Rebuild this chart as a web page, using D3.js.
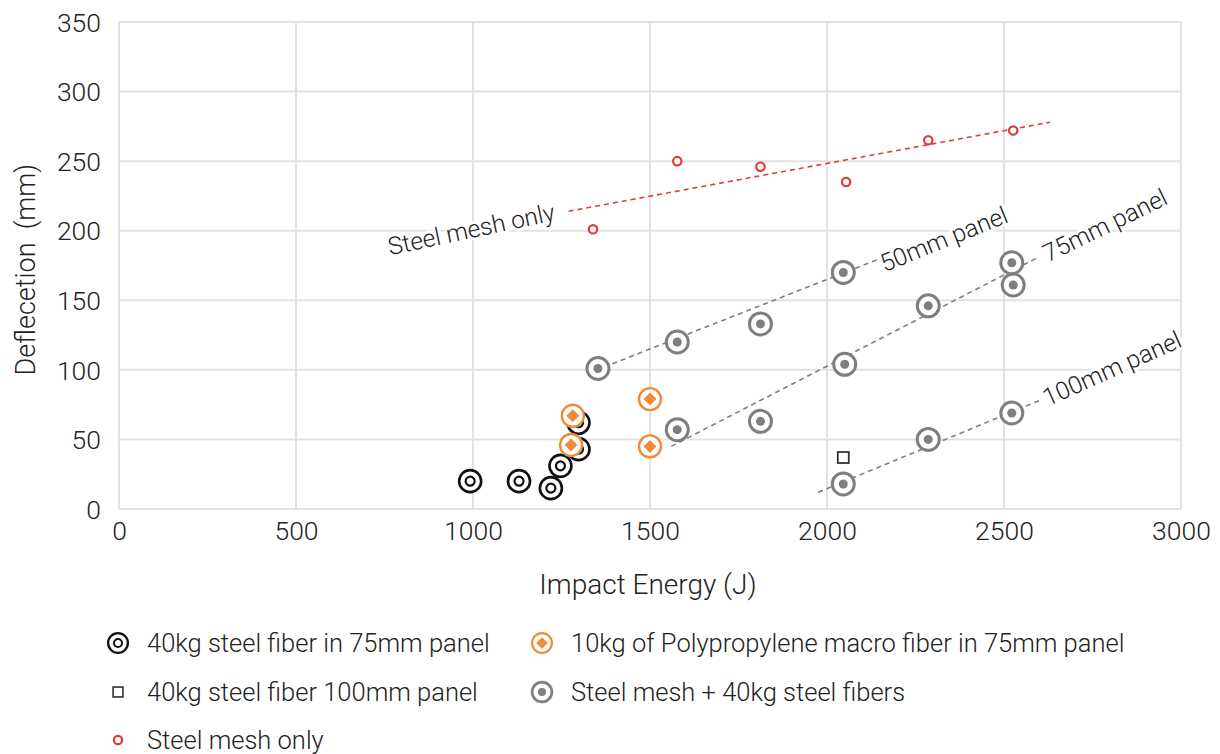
<!DOCTYPE html>
<html>
<head>
<meta charset="utf-8">
<script src="https://cdn.jsdelivr.net/npm/d3@7"></script>
<style>
  body { margin: 0; background: #fff; }
  svg text { font-family: Roboto, "Open Sans", sans-serif; font-weight: 300; fill: #222; }
  .grid line { stroke: #e2e2e2; stroke-width: 2; }
  .tick text { font-size: 26.5px; }
</style>
</head>
<body>
<script>
// ---- data ----
var xTicks = [0, 500, 1000, 1500, 2000, 2500, 3000];
var yTicks = [0, 50, 100, 150, 200, 250, 300, 350];

var fiber75 = [[992, 20], [1130, 20], [1220, 15], [1247, 31], [1298, 43], [1298, 62]];
var poly75 = [[1282, 67], [1277, 46], [1500, 79], [1500, 45]];
var fiber100 = [[2046, 37]];
var meshOnly = [[1339, 201], [1577, 250], [1812, 246], [2054, 235], [2286, 265], [2526, 272]];
var mesh50 = [[1353, 101], [1577, 120], [1812, 133], [2046, 170]];
var mesh75 = [[1577, 57], [1812, 63], [2050, 104], [2286, 146], [2526, 161], [2522, 177]];
var mesh100 = [[2046, 18], [2286, 50], [2522, 69]];

// trend lines (start, end)
var trendMesh = [[1270, 214], [2630, 278]];
var trend50 = [[1370, 102], [2150, 180]];
var trend75 = [[1560, 45], [2590, 180]];
var trend100 = [[1975, 12], [2600, 78]];

var legendItems = [
  {key: "fiber75", label: "40kg steel fiber in 75mm panel"},
  {key: "poly75", label: "10kg of Polypropylene macro fiber in 75mm panel"},
  {key: "fiber100", label: "40kg steel fiber 100mm panel"},
  {key: "mesh", label: "Steel mesh + 40kg steel fibers"},
  {key: "meshOnly", label: "Steel mesh only"}
];

// ---- layout ----
var width = 1220, height = 754;
var margin = {left: 119, right: 39, top: 22, bottom: 245};

var svg = d3.select("body").append("svg")
  .attr("width", width)
  .attr("height", height);

var x = d3.scaleLinear().domain([0, 3000]).range([margin.left, width - margin.right]);
var y = d3.scaleLinear().domain([0, 350]).range([height - margin.bottom, margin.top]);

// grid
var grid = svg.append("g").attr("class", "grid");
grid.selectAll(".vg").data(xTicks).enter().append("line")
  .attr("x1", function (d) { return x(d); })
  .attr("x2", function (d) { return x(d); })
  .attr("y1", y(0)).attr("y2", y(350));
grid.selectAll(".hg").data(yTicks).enter().append("line")
  .attr("y1", function (d) { return y(d); })
  .attr("y2", function (d) { return y(d); })
  .attr("x1", x(0)).attr("x2", x(3000));

// axes (labels only)
var xAxis = svg.append("g")
  .attr("transform", "translate(0," + (y(0) + 4) + ")")
  .call(d3.axisBottom(x).tickValues(xTicks).tickFormat(d3.format("d")).tickSize(0).tickPadding(8));
var yAxis = svg.append("g")
  .attr("transform", "translate(" + (x(0) - 18) + ",0)")
  .call(d3.axisLeft(y).tickValues(yTicks).tickFormat(d3.format("d")).tickSize(0).tickPadding(0));
svg.selectAll(".domain").remove();
yAxis.selectAll("text").attr("dy", "0.35em");

svg.append("text")
  .attr("x", (x(0) + x(3000)) / 2 - 2)
  .attr("y", 594)
  .attr("text-anchor", "middle")
  .style("font-size", "28px")
  .text("Impact Energy (J)");

svg.append("text")
  .attr("transform", "translate(35," + y(172) + ") rotate(-90)")
  .attr("text-anchor", "middle")
  .style("font-size", "27px")
  .attr("xml:space", "preserve")
  .text("Deflecetion  (mm)");

// trend lines
var line = d3.line()
  .x(function (d) { return x(d[0]); })
  .y(function (d) { return y(d[1]); });

svg.append("path").datum(trendMesh).attr("d", line)
  .attr("fill", "none").attr("stroke", "#e23b3b").attr("stroke-width", 1.6).attr("stroke-dasharray", "5,4");
[trend50, trend75, trend100].forEach(function (t) {
  svg.append("path").datum(t).attr("d", line)
    .attr("fill", "none").attr("stroke", "#7f7f7f").attr("stroke-width", 1.6).attr("stroke-dasharray", "5,4");
});

// line labels
function lineLabel(txt, px, py, angle) {
  svg.append("text")
    .attr("transform", "translate(" + x(px) + "," + y(py) + ") rotate(" + angle + ")")
    .attr("text-anchor", "middle")
    .attr("dy", "0.35em")
    .style("font-size", "24.5px")
    .style("paint-order", "stroke")
    .style("stroke", "#fff")
    .style("stroke-width", 6)
    .text(txt);
}
lineLabel("Steel mesh only", 995, 201, -12);
lineLabel("50mm panel", 2330, 194, -22);
lineLabel("75mm panel", 2785, 204, -26);
lineLabel("100mm panel", 2805, 101, -24);

// marker drawing
function drawMarker(g, key) {
  if (key == "fiber75") {
    g.append("circle").attr("r", 11).attr("fill", "#fff").attr("stroke", "#111").attr("stroke-width", 2.6);
    g.append("circle").attr("r", 4.5).attr("fill", "none").attr("stroke", "#111").attr("stroke-width", 2.2);
  } else if (key == "poly75") {
    g.append("circle").attr("r", 11).attr("fill", "#fff").attr("stroke", "#f28a3a").attr("stroke-width", 2.4);
    g.append("path").attr("d", "M0,-6.5L6.5,0L0,6.5L-6.5,0Z").attr("fill", "#f28a3a");
  } else if (key == "fiber100") {
    g.append("rect").attr("x", -5.5).attr("y", -5.5).attr("width", 11).attr("height", 11)
      .attr("fill", "#fff").attr("stroke", "#333").attr("stroke-width", 1.8);
  } else if (key == "mesh") {
    g.append("circle").attr("r", 11).attr("fill", "#fff").attr("stroke", "#7f7f7f").attr("stroke-width", 3);
    g.append("circle").attr("r", 4.5).attr("fill", "#7f7f7f");
  } else if (key == "meshOnly") {
    g.append("circle").attr("r", 4.2).attr("fill", "#fff").attr("stroke", "#e23b3b").attr("stroke-width", 2.2);
  }
}

function plotSeries(data, key) {
  svg.append("g").selectAll("g").data(data).enter().append("g")
    .attr("transform", function (d) { return "translate(" + x(d[0]) + "," + y(d[1]) + ")"; })
    .each(function () { drawMarker(d3.select(this), key); });
}

plotSeries(fiber75, "fiber75");
plotSeries(poly75, "poly75");
plotSeries(fiber100, "fiber100");
plotSeries(meshOnly, "meshOnly");
plotSeries(mesh50, "mesh");
plotSeries(mesh75, "mesh");
plotSeries(mesh100, "mesh");

// legend
var legendPos = [[118, 643], [542, 643], [118, 692], [542, 692], [118, 740]];
legendItems.forEach(function (item, i) {
  var g = svg.append("g").attr("transform", "translate(" + legendPos[i][0] + "," + legendPos[i][1] + ")");
  var m = g.append("g").attr("transform", item.key == "meshOnly" ? "scale(1)" : "scale(0.9)");
  drawMarker(m, item.key);
  g.append("text").attr("x", 29).attr("dy", "0.35em").style("font-size", "25.5px").text(item.label);
});
</script>
</body>
</html>
